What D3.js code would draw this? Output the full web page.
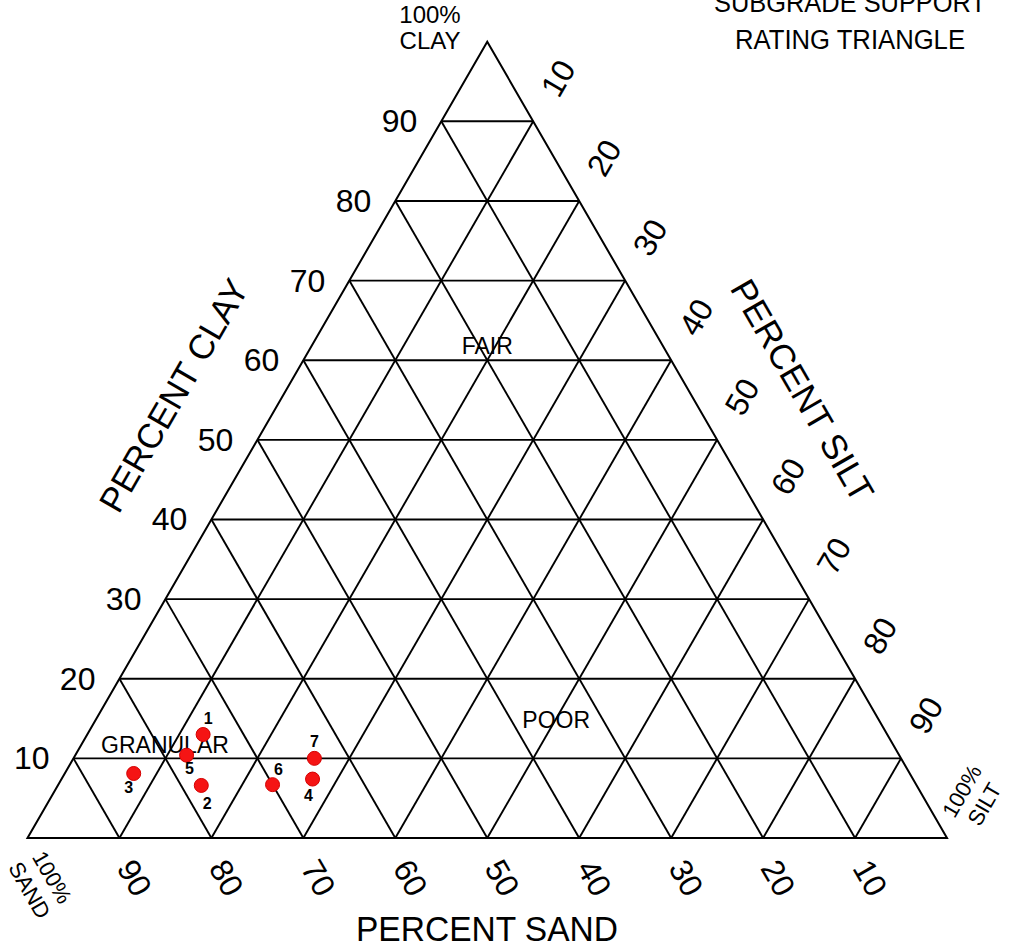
<!DOCTYPE html>
<html>
<head>
<meta charset="utf-8">
<script src="https://cdn.jsdelivr.net/npm/d3@7"></script>
<style>
  body { margin: 0; background: #fff; }
  text { font-family: "Liberation Sans", Arial, sans-serif; fill: #000; }
</style>
</head>
<body>
<div id="chart-area"></div>
<script>
// sample points (percent sand / silt / clay)
var pointIds = ["1", "2", "3", "4", "5", "6", "7"]
var sand = [74.4, 77.8, 84.4, 65.3, 77.5, 70.0, 63.8]
var silt = [12.6, 15.6, 7.5, 27.3, 12.1, 23.3, 26.2]
var clay = [13.0, 6.6, 8.1, 7.4, 10.4, 6.7, 10.0]

var gridValues = [10, 20, 30, 40, 50, 60, 70, 80, 90]
var clayTicks = ["10", "20", "30", "40", "50", "60", "70", "80", "90"]
var siltTicks = ["10", "20", "30", "40", "50", "60", "70", "80", "90"]
var sandTicks = ["10", "20", "30", "40", "50", "60", "70", "80", "90"]

var zones = ["FAIR", "POOR", "GRANULAR"]
// zone label anchor in sand/clay (baseline centre)
var zoneSand = [19.6, 35.6, 79.7]
var zoneClay = [60.8, 13.8, 10.7]

const WIDTH = 1012
const HEIGHT = 947
const X0 = 27.5, X1 = 947, Y0 = 838

var svg = d3.select("#chart-area").append("svg")
    .attr("width", WIDTH)
    .attr("height", HEIGHT)

var xScale = d3.scaleLinear().domain([0, 100]).range([X0, X1])
var yScale = d3.scaleLinear().domain([0, 100]).range([Y0, Y0 - (X1 - X0) * Math.sqrt(3) / 2])

function proj(sa, si, cl) {
    return [xScale(si + cl / 2), yScale(cl)]
}

var g = svg.append("g")
var lineGen = d3.line()

// grid
gridValues.forEach(function(v) {
    var lines = [
        [proj(100 - v, 0, v), proj(0, 100 - v, v)],   // clay
        [proj(100 - v, v, 0), proj(0, v, 100 - v)],   // silt
        [proj(v, 100 - v, 0), proj(v, 0, 100 - v)]    // sand
    ]
    lines.forEach(function(l) {
        g.append("path")
            .attr("d", lineGen(l))
            .attr("stroke", "#000")
            .attr("stroke-width", 1.9)
            .attr("fill", "none")
    })
})

// outline
g.append("path")
    .attr("d", lineGen([proj(100, 0, 0), proj(0, 100, 0), proj(0, 0, 100)]) + "Z")
    .attr("stroke", "#000")
    .attr("stroke-width", 2)
    .attr("fill", "none")

// clay ticks, horizontal, left of the left edge
gridValues.forEach(function(v, i) {
    var p = proj(100 - v, 0, v)
    g.append("text")
        .attr("x", p[0] - 24)
        .attr("y", p[1] + 11)
        .attr("font-size", "32px")
        .attr("text-anchor", "end")
        .text(clayTicks[i])
})

// silt ticks, along extension of the silt lines
gridValues.forEach(function(v, i) {
    var p = proj(0, v, 100 - v)
    var cx = p[0] + 25, cy = p[1] - 43
    g.append("text")
        .attr("transform", "translate(" + cx + "," + cy + ") rotate(-60)")
        .attr("y", 11)
        .attr("font-size", "32px")
        .attr("text-anchor", "middle")
        .text(siltTicks[i])
})

// sand ticks under the base
gridValues.forEach(function(v, i) {
    var p = proj(v, 100 - v, 0)
    var cx = p[0] + 15, cy = p[1] + 40
    g.append("text")
        .attr("transform", "translate(" + cx + "," + cy + ") rotate(60)")
        .attr("y", 11)
        .attr("font-size", "32px")
        .attr("text-anchor", "middle")
        .text(sandTicks[i])
})

// axis titles
g.append("text")
    .attr("x", 487)
    .attr("y", 941)
    .attr("font-size", "35px")
    .attr("text-anchor", "middle")
    .attr("textLength", 262)
    .attr("lengthAdjust", "spacingAndGlyphs")
    .text("PERCENT SAND")

g.append("text")
    .attr("transform", "translate(173,395) rotate(-60)")
    .attr("y", 13)
    .attr("font-size", "35px")
    .attr("text-anchor", "middle")
    .attr("textLength", 262)
    .attr("lengthAdjust", "spacingAndGlyphs")
    .text("PERCENT CLAY")

g.append("text")
    .attr("transform", "translate(803,390) rotate(60)")
    .attr("y", 13)
    .attr("font-size", "35px")
    .attr("text-anchor", "middle")
    .attr("textLength", 250)
    .attr("lengthAdjust", "spacingAndGlyphs")
    .text("PERCENT SILT")

// corner labels
function twoLine(cx, cy, angle, a, b, size) {
    var t = g.append("g")
        .attr("transform", "translate(" + cx + "," + cy + ") rotate(" + angle + ")")
    t.append("text").attr("y", -4).attr("font-size", size).attr("text-anchor", "middle").text(a)
    t.append("text").attr("y", 22).attr("font-size", size).attr("text-anchor", "middle").text(b)
}
twoLine(430, 27, 0, "100%", "CLAY", "24px")
twoLine(42, 883, 60, "100%", "SAND", "22px")
twoLine(972, 797, -60, "100%", "SILT", "22px")

// title (top line is clipped by the page edge, as in the original)
g.append("text")
    .attr("x", 850)
    .attr("y", 12)
    .attr("font-size", "27px")
    .attr("text-anchor", "middle")
    .attr("textLength", 272)
    .attr("lengthAdjust", "spacingAndGlyphs")
    .text("SUBGRADE SUPPORT")
g.append("text")
    .attr("x", 850)
    .attr("y", 49)
    .attr("font-size", "27px")
    .attr("text-anchor", "middle")
    .attr("textLength", 230)
    .attr("lengthAdjust", "spacingAndGlyphs")
    .text("RATING TRIANGLE")

// zone labels
zones.forEach(function(z, i) {
    var cl = zoneClay[i], sa = zoneSand[i]
    var p = proj(sa, 100 - sa - cl, cl)
    g.append("text")
        .attr("x", p[0])
        .attr("y", p[1])
        .attr("font-size", "23px")
        .attr("text-anchor", "middle")
        .text(z)
})

// points
var labelOffsets = [[5, -10], [6, 24], [-5, 20], [-4, 22], [3, 19], [6, -10], [0, -11]]
pointIds.forEach(function(id, i) {
    var p = proj(sand[i], silt[i], clay[i])
    g.append("circle")
        .attr("cx", p[0])
        .attr("cy", p[1])
        .attr("r", 7)
        .attr("fill", "#f51414")
        .attr("stroke", "#d40000")
        .attr("stroke-width", 1)
    g.append("text")
        .attr("x", p[0] + labelOffsets[i][0])
        .attr("y", p[1] + labelOffsets[i][1])
        .attr("font-size", "16px")
        .attr("font-weight", "bold")
        .attr("text-anchor", "middle")
        .text(id)
})
</script>
</body>
</html>
